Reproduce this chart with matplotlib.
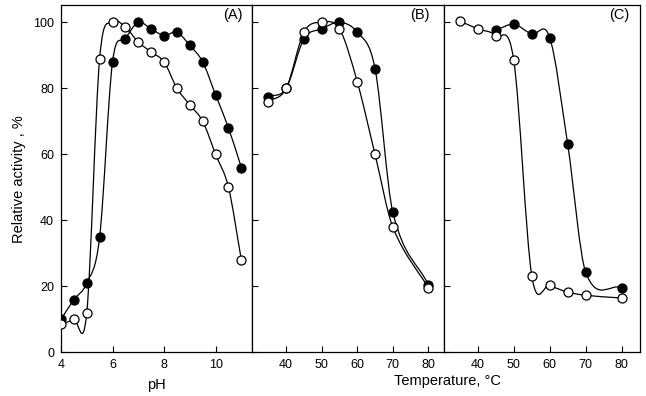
import matplotlib
matplotlib.use("Agg")
import matplotlib.pyplot as plt
from matplotlib.path import Path
from matplotlib.patches import PathPatch

plt.rcParams['font.family'] = ['Liberation Sans', 'DejaVu Sans']

# Panel A: pH
ph_filled = [4, 4.5, 5, 5.5, 6, 6.5, 7, 7.5, 8, 8.5, 9, 9.5, 10, 10.5, 11]
act_ph_filled = [10, 16, 21, 35, 88, 95, 100, 98, 96, 97, 93, 88, 78, 68, 56]
ph_open = [4, 4.5, 5, 5.5, 6, 6.5, 7, 7.5, 8, 8.5, 9, 9.5, 10, 10.5, 11]
act_ph_open = [8.5, 10, 12, 89, 100, 98.5, 94, 91, 88, 80, 75, 70, 60, 50, 28]

# Panel B: temperature (activity)
tb_filled = [35, 40, 45, 50, 55, 60, 65, 70, 80]
act_tb_filled = [77.5, 80, 95, 98, 100, 97, 86, 42.5, 20.5]
tb_open = [35, 40, 45, 50, 55, 60, 65, 70, 80]
act_tb_open = [76, 80, 97, 100, 98, 82, 60, 38, 19.5]

# Panel C: temperature (stability)
tc_filled = [45, 50, 55, 60, 65, 70, 80]
act_tc_filled = [97.6, 99.4, 96.4, 95.4, 63, 24.3, 19.6]
tc_open = [35, 40, 45, 50, 55, 60, 65, 70, 80]
act_tc_open = [100.4, 98, 96, 88.5, 23.3, 20.3, 18.3, 17.3, 16.5]

xticks_a = [4, 6, 8, 10]
xticks_t = [40, 50, 60, 70, 80]
yticks = [0, 20, 40, 60, 80, 100]


def smooth_line(ax, x, y, lw=0.9):
    n = len(x)
    m = []
    for i in range(n):
        if i == 0:
            m.append((y[1] - y[0]) / (x[1] - x[0]))
        elif i == n - 1:
            m.append((y[-1] - y[-2]) / (x[-1] - x[-2]))
        else:
            m.append((y[i + 1] - y[i - 1]) / (x[i + 1] - x[i - 1]))
    verts = [(x[0], y[0])]
    codes = [Path.MOVETO]
    for i in range(n - 1):
        h = x[i + 1] - x[i]
        verts += [(x[i] + h / 3, y[i] + m[i] * h / 3),
                  (x[i + 1] - h / 3, y[i + 1] - m[i + 1] * h / 3),
                  (x[i + 1], y[i + 1])]
        codes += [Path.CURVE4] * 3
    ax.add_patch(PathPatch(Path(verts, codes), fill=False, lw=lw,
                           edgecolor='black', zorder=2))


fig = plt.figure(figsize=(6.46, 3.96), dpi=100)
bottom, height = 0.110, 0.877
axA = fig.add_axes([0.0944, bottom, 0.2952, height])
axB = fig.add_axes([0.3896, bottom, 0.2977, height])
axC = fig.add_axes([0.6873, bottom, 0.3034, height])

ms = 6.5
panels = [
    (axA, ph_filled, act_ph_filled, ph_open, act_ph_open, (4, 11.4), xticks_a, '(A)', 0.90),
    (axB, tb_filled, act_tb_filled, tb_open, act_tb_open, (30.3, 84.4), xticks_t, '(B)', 0.875),
    (axC, tc_filled, act_tc_filled, tc_open, act_tc_open, (30.6, 85.1), xticks_t, '(C)', 0.893),
]
for ax, xf, yf, xo, yo, xl, xt, lab, lx in panels:
    smooth_line(ax, xf, yf)
    smooth_line(ax, xo, yo)
    ax.plot(xf, yf, 'o', ms=ms, mfc='black', mec='black', mew=0.9, zorder=3)
    ax.plot(xo, yo, 'o', ms=ms, mfc='white', mec='black', mew=0.9, zorder=4)
    ax.set_xlim(*xl)
    ax.set_ylim(0, 105.2)
    ax.set_xticks(xt)
    ax.set_yticks(yticks)
    ax.tick_params(direction='in', length=4.5, width=0.8, labelsize=9, pad=5)
    ax.tick_params(axis='y', pad=5)
    for s in ax.spines.values():
        s.set_linewidth(0.9)
    ax.text(lx, 0.972, lab, transform=ax.transAxes, ha='center', va='center', fontsize=10.5)

axB.set_yticklabels([])
axC.set_yticklabels([])

axA.set_ylabel('Relative activity , %', fontsize=10.5, labelpad=5)
axA.set_xlabel('pH', fontsize=10.5, labelpad=5)
fig.text(447 / 646, 1 - 381 / 396, 'Temperature, \u00b0C', ha='center', va='center', fontsize=10.5)

fig.savefig('out.png', dpi=100)
